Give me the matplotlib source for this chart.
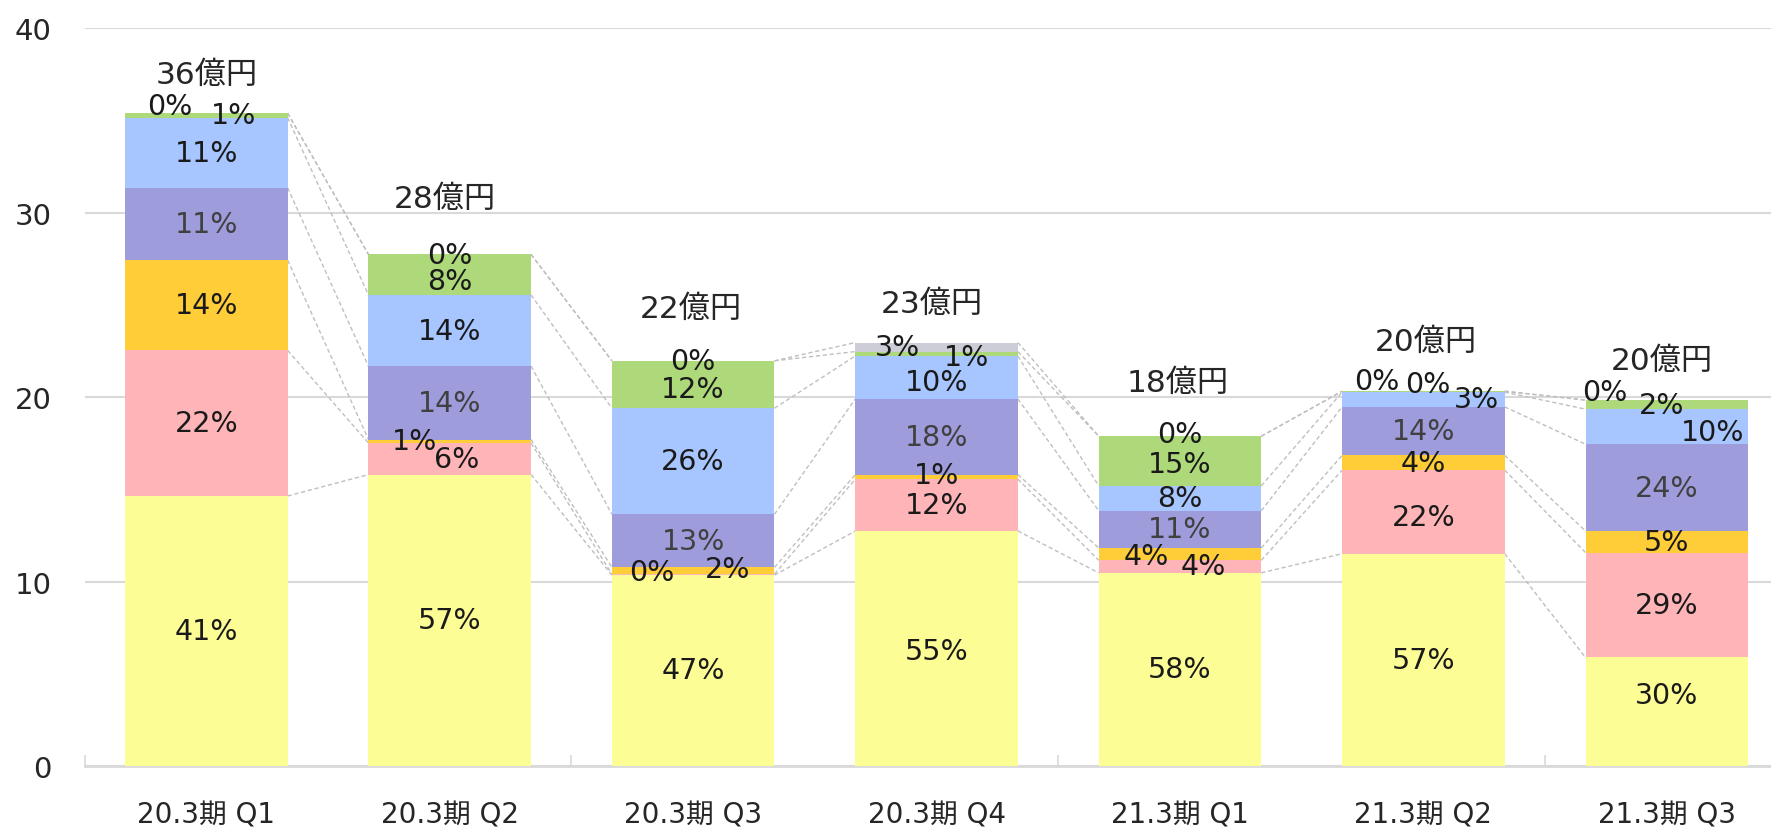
import numpy as np
import matplotlib
matplotlib.use("Agg")
import matplotlib.pyplot as plt

plt.rcParams['font.family'] = ['DejaVu Sans', 'Noto Sans CJK JP']

quarters = ['20.3期 Q1', '20.3期 Q2', '20.3期 Q3', '20.3期 Q4',
            '21.3期 Q1', '21.3期 Q2', '21.3期 Q3']
total_labels = ['36億円', '28億円', '22億円', '23億円', '18億円', '20億円', '20億円']

# segment values (億円), bottom to top
yellow = [14.64, 15.80, 10.35, 12.74, 10.47, 11.51, 5.88]
pink = [7.89, 1.71, 0.05, 2.81, 0.68, 4.53, 5.69]
gold = [4.90, 0.19, 0.37, 0.25, 0.67, 0.80, 1.17]
purple = [3.92, 3.98, 2.88, 4.10, 2.02, 2.63, 4.71]
blue = [3.80, 3.86, 5.75, 2.33, 1.35, 0.80, 1.90]
green = [0.25, 2.20, 2.57, 0.24, 2.69, 0.05, 0.49]
gray = [0.0, 0.0, 0.0, 0.49, 0.0, 0.0, 0.0]

# share labels (%)
pct_yellow = [41, 57, 47, 55, 58, 57, 30]
pct_pink = [22, 6, 0, 12, 4, 22, 29]
pct_gold = [14, 1, 2, 1, 4, 4, 5]
pct_purple = [11, 14, 13, 18, 11, 14, 24]
pct_blue = [11, 14, 26, 10, 8, 3, 10]
pct_green = [1, 8, 12, 1, 15, 0, 2]
pct_gray = [0, 0, 0, 3, 0, 0, 0]

series = [yellow, pink, gold, purple, blue, green, gray]
pcts = [pct_yellow, pct_pink, pct_gold, pct_purple, pct_blue, pct_green, pct_gray]
colors = ['#FDFD96', '#FFB5B8', '#FFCD38', '#9F9CDC', '#A7C5FE', '#AED97B', '#CDCDD8']
label_colors = ['#1a1a1a', '#1a1a1a', '#1a1a1a', '#404040', '#1a1a1a', '#1a1a1a', '#1a1a1a']

# hand-placed labels for thin segments: (series, category) -> (dx, y)
label_pos = {
    (6, 0): (-0.15, 35.8), (5, 0): (0.11, 35.3),
    (6, 1): (0, 27.7), (5, 1): (0, 26.3), (2, 1): (-0.145, 17.6), (1, 1): (0.03, 16.65),
    (6, 2): (0, 21.95), (5, 2): (0, 20.45), (1, 2): (-0.17, 10.5), (2, 2): (0.14, 10.7),
    (6, 3): (-0.16, 22.7), (5, 3): (0.125, 22.2), (4, 3): (0, 20.8), (2, 3): (0, 15.8),
    (0, 3): (0, 6.25),
    (6, 4): (0, 18.0), (5, 4): (0, 16.37), (2, 4): (-0.14, 11.4), (1, 4): (0.095, 10.85),
    (6, 5): (-0.19, 20.9), (5, 5): (0.02, 20.7), (4, 5): (0.22, 19.9), (1, 5): (0, 13.5),
    (6, 6): (-0.255, 20.3), (5, 6): (-0.02, 19.6), (4, 6): (0.19, 18.1), (0, 6): (0, 3.86),
}
total_pos = [(0, 37.5), (-0.02, 30.8), (-0.01, 24.8), (-0.02, 25.1),
             (-0.01, 20.8), (0.01, 23.0), (-0.02, 22.0)]

fig = plt.figure(figsize=(17.71, 8.29), dpi=100)
ax = fig.add_axes([0.0478, 0.0749, 1.0099 - 0.0478, 0.9646 - 0.0749])

x = np.arange(len(quarters))
w = 0.668
bottom = np.zeros(len(quarters))
tops = []
for s, vals in enumerate(series):
    vals = np.array(vals)
    ax.bar(x, vals, w, bottom=bottom, color=colors[s], zorder=3, linewidth=0)
    for i in range(len(x)):
        if (s, i) in label_pos:
            dx, yy = label_pos[(s, i)]
        else:
            dx, yy = 0, bottom[i] + vals[i] / 2
        ax.text(x[i] + dx, yy, f'{pcts[s][i]}%', ha='center', va='center',
                fontsize=20.5, color=label_colors[s], zorder=5)
    bottom = bottom + vals
    tops.append(bottom.copy())

# dashed series lines between bars
for top in tops:
    for i in range(len(x) - 1):
        ax.plot([x[i] + w / 2, x[i + 1] - w / 2], [top[i], top[i + 1]],
                color='#BFBFBF', lw=1, ls=(0, (3, 2)), zorder=2)

for i, lab in enumerate(total_labels):
    dx, yy = total_pos[i]
    ax.text(x[i] + dx, yy, lab, ha='center', va='center', fontsize=22.5,
            color='#262626', zorder=5)

ax.set_xlim(-0.5, len(x) - 0.5)
ax.set_ylim(0, 40)
ax.set_yticks([0, 10, 20, 30, 40])
ax.yaxis.grid(True, color='#D9D9D9', lw=1.5, zorder=0)
ax.set_axisbelow(True)
for side in ['left', 'right', 'top']:
    ax.spines[side].set_visible(False)
ax.spines['bottom'].set_color('#D9D9D9')
ax.spines['bottom'].set_linewidth(2)
ax.set_xticks(x)
ax.set_xticklabels(quarters)
ax.set_xticks([-0.5, 1.5, 3.5, 5.5], minor=True)
ax.tick_params(axis='x', which='major', length=0, pad=25, labelsize=20, labelcolor='#262626')
ax.tick_params(axis='x', which='minor', direction='in', length=8, color='#D9D9D9', width=1.2)
ax.tick_params(axis='y', length=0, pad=24, labelsize=21, labelcolor='#262626')

fig.savefig('out.png', dpi=100)
